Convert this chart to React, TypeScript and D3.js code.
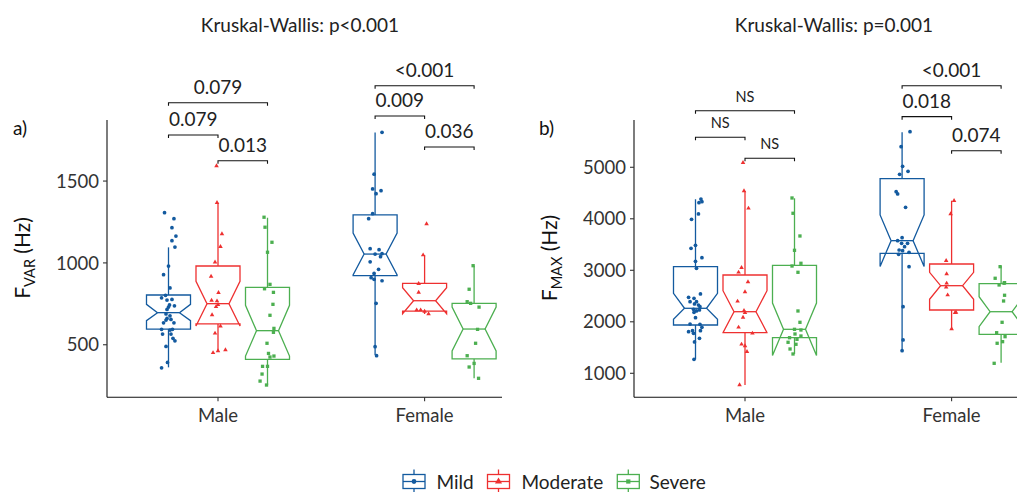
import React from "react";
import * as d3 from "d3";

// ---------- data ----------
const sexes = ["Male", "Female"];
const severities = ["Mild", "Moderate", "Severe"];
const severityColors = ["#135A9F", "#EE3030", "#4CAF50"];

// box stats per severity: [lowerWhisker, q1, median, q3, upperWhisker, notchLow, notchHigh]
const fvarMaleStats = [
  [362, 596, 696, 804, 1095, 647, 747],
  [461, 627, 751, 981, 1368, 615, 887],
  [254, 411, 586, 851, 1276, 431, 741],
];
const fvarFemaleStats = [
  [437, 922, 1054, 1293, 1796, 926, 1182],
  [688, 706, 769, 875, 1048, 690, 848],
  [295, 414, 596, 753, 983, 462, 730],
];
const fmaxMaleStats = [
  [1272, 1938, 2262, 3070, 4379, 2049, 2553],
  [773, 1789, 2196, 2909, 4540, 1790, 2604],
  [1375, 1691, 1854, 3097, 4398, 1344, 2364],
];
const fmaxFemaleStats = [
  [1439, 3330, 3575, 4779, 5680, 3075, 4075],
  [1860, 2229, 2701, 3122, 4351, 2437, 2961],
  [1206, 1757, 2196, 2740, 3083, 1905, 2487],
];

// points: [sex, severity, value, jitter (fraction of dodge step)]
const fvarPoints: [string, string, number, number][] = [
  ["Male","Mild",1307,-0.08],["Male","Mild",1270,0.11],["Male","Mild",1215,0.07],["Male","Mild",1164,0.15],
  ["Male","Mild",1136,0.07],["Male","Mild",1097,0.13],["Male","Mild",981,0],["Male","Mild",928,-0.1],
  ["Male","Mild",847,0.03],["Male","Mild",802,-0.06],["Male","Mild",787,-0.14],["Male","Mild",773,-0.03],
  ["Male","Mild",777,0.07],["Male","Mild",743,0.02],["Male","Mild",730,0],["Male","Mild",716,-0.03],
  ["Male","Mild",738,0.12],["Male","Mild",688,-0.05],["Male","Mild",661,-0.03],["Male","Mild",677,0.03],
  ["Male","Mild",651,-0.05],["Male","Mild",634,-0.1],["Male","Mild",655,0.05],["Male","Mild",634,0.11],
  ["Male","Mild",594,-0.14],["Male","Mild",590,0.03],["Male","Mild",594,0.08],["Male","Mild",565,-0.12],
  ["Male","Mild",565,0.05],["Male","Mild",539,0.09],["Male","Mild",524,0.13],["Male","Mild",490,-0.05],
  ["Male","Mild",392,-0.02],["Male","Mild",359,-0.14],
  ["Male","Moderate",1592,-0.03],["Male","Moderate",1368,-0.02],["Male","Moderate",1177,0.08],["Male","Moderate",1099,0.05],
  ["Male","Moderate",1004,-0.06],["Male","Moderate",918,-0.14],["Male","Moderate",818,0.01],["Male","Moderate",771,-0.13],
  ["Male","Moderate",767,-0.02],["Male","Moderate",745,0],["Male","Moderate",732,-0.04],["Male","Moderate",682,-0.12],
  ["Male","Moderate",614,0.05],["Male","Moderate",570,-0.06],["Male","Moderate",451,-0.1],["Male","Moderate",463,0],
  ["Male","Moderate",469,0.15],
  ["Male","Severe",1279,-0.07],["Male","Severe",1218,-0.05],["Male","Severe",1126,0.09],["Male","Severe",1065,0],
  ["Male","Severe",869,0.05],["Male","Severe",842,-0.06],["Male","Severe",820,0.12],["Male","Severe",747,0.11],
  ["Male","Severe",680,0.05],["Male","Severe",600,0.13],["Male","Severe",576,0.12],["Male","Severe",509,-0.01],
  ["Male","Severe",447,0.02],["Male","Severe",425,0.05],["Male","Severe",431,0.13],["Male","Severe",368,-0.1],
  ["Male","Severe",368,0],["Male","Severe",321,-0.11],["Male","Severe",278,-0.15],["Male","Severe",254,-0.02],
  ["Female","Mild",1798,0.14],["Female","Mild",1542,-0.02],["Female","Mild",1452,-0.05],["Female","Mild",1441,0.12],
  ["Female","Mild",1423,0.02],["Female","Mild",1301,-0.05],["Female","Mild",1270,-0.13],["Female","Mild",1087,-0.1],
  ["Female","Mild",1081,0.08],["Female","Mild",1054,0],["Female","Mild",1056,0.14],["Female","Mild",1038,0.11],
  ["Female","Mild",1007,-0.1],["Female","Mild",961,0.07],["Female","Mild",936,-0.02],["Female","Mild",910,-0.08],
  ["Female","Mild",900,-0.02],["Female","Mild",891,0.14],["Female","Mild",753,0.02],["Female","Mild",488,0],
  ["Female","Mild",433,0.03],
  ["Female","Moderate",1238,0.04],["Female","Moderate",1048,-0.03],["Female","Moderate",873,-0.12],["Female","Moderate",820,-0.12],
  ["Female","Moderate",712,-0.16],["Female","Moderate",712,-0.08],["Female","Moderate",704,0],["Female","Moderate",688,0.08],
  ["Female","Severe",983,-0.02],["Female","Severe",839,-0.1],["Female","Severe",763,-0.14],["Female","Severe",753,-0.07],
  ["Female","Severe",730,0.1],["Female","Severe",594,0.07],["Female","Severe",509,0.03],["Female","Severe",433,-0.14],
  ["Female","Severe",386,0],["Female","Severe",364,-0.1],["Female","Severe",295,0.09],
];

const fmaxPoints: [string, string, number, number][] = [
  ["Male","Mild",4384,0.11],["Male","Mild",4313,0.07],["Male","Mild",4332,0.13],["Male","Mild",4093,0.06],
  ["Male","Mild",3990,-0.08],["Male","Mild",3485,0],["Male","Mild",3427,-0.09],["Male","Mild",3245,0.13],
  ["Male","Mild",3175,0],["Male","Mild",3039,0.02],["Male","Mild",2540,0.1],["Male","Mild",2476,-0.14],
  ["Male","Mild",2456,-0.03],["Male","Mild",2390,-0.11],["Male","Mild",2390,0.02],["Male","Mild",2346,-0.02],
  ["Male","Mild",2326,0.06],["Male","Mild",2293,0.09],["Male","Mild",2243,-0.04],["Male","Mild",2210,0.02],
  ["Male","Mild",2229,0.08],["Male","Mild",2184,-0.03],["Male","Mild",2080,0],["Male","Mild",1957,-0.11],
  ["Male","Mild",1951,0.09],["Male","Mild",1893,0.13],["Male","Mild",1808,-0.14],["Male","Mild",1827,-0.06],
  ["Male","Mild",1777,-0.04],["Male","Mild",1827,0.1],["Male","Mild",1680,0.08],["Male","Mild",1608,-0.02],
  ["Male","Mild",1272,-0.03],
  ["Male","Moderate",5089,-0.04],["Male","Moderate",4540,-0.02],["Male","Moderate",4204,0.07],["Male","Moderate",2961,-0.13],
  ["Male","Moderate",3050,-0.07],["Male","Moderate",2773,0.06],["Male","Moderate",2579,0],["Male","Moderate",2398,-0.15],
  ["Male","Moderate",2216,-0.02],["Male","Moderate",2177,0],["Male","Moderate",2087,-0.04],["Male","Moderate",1893,-0.13],
  ["Male","Moderate",1777,0.15],["Male","Moderate",1563,-0.07],["Male","Moderate",1530,0],["Male","Moderate",1419,0.04],
  ["Male","Moderate",773,-0.11],
  ["Male","Severe",4404,-0.05],["Male","Severe",4107,-0.03],["Male","Severe",3666,0.11],["Male","Severe",3388,0],
  ["Male","Severe",3136,0.13],["Male","Severe",3083,-0.05],["Male","Severe",2961,0.07],["Male","Severe",2210,0.07],
  ["Male","Severe",1990,0.11],["Male","Severe",1854,0],["Male","Severe",1841,0.13],["Male","Severe",1763,0.01],
  ["Male","Severe",1724,0.13],["Male","Severe",1691,-0.1],["Male","Severe",1660,0.05],["Male","Severe",1602,-0.13],
  ["Male","Severe",1563,0.03],["Male","Severe",1472,-0.09],["Male","Severe",1375,-0.03],
  ["Female","Mild",5691,0.16],["Female","Mild",5400,-0.02],["Female","Mild",5019,0.01],["Female","Mild",4922,0.12],
  ["Female","Mild",4864,-0.05],["Female","Mild",4526,-0.12],["Female","Mild",4482,-0.09],["Female","Mild",4223,0.07],
  ["Female","Mild",3633,0],["Female","Mild",3575,-0.09],["Female","Mild",3524,-0.01],["Female","Mild",3524,0.11],
  ["Female","Mild",3458,0.05],["Female","Mild",3394,-0.06],["Female","Mild",3381,0.01],["Female","Mild",3350,0.14],
  ["Female","Mild",3311,-0.07],["Female","Mild",3070,0.14],["Female","Mild",2293,0.02],["Female","Mild",1647,0.02],
  ["Female","Mild",1439,0],
  ["Female","Moderate",4351,0.05],["Female","Moderate",4093,-0.02],["Female","Moderate",3186,-0.11],["Female","Moderate",2928,-0.1],
  ["Female","Moderate",2748,-0.1],["Female","Moderate",2670,-0.11],["Female","Moderate",2520,-0.08],["Female","Moderate",2177,0.07],
  ["Female","Moderate",2184,0.09],["Female","Moderate",1860,0],
  ["Female","Severe",3070,-0.02],["Female","Severe",2845,-0.12],["Female","Severe",2715,-0.04],["Female","Severe",2760,0.07],
  ["Female","Severe",2748,0.06],["Female","Severe",2515,0.07],["Female","Severe",2404,0.05],["Female","Severe",1990,0.02],
  ["Female","Severe",1788,-0.09],["Female","Severe",1711,0.08],["Female","Severe",1614,0.03],["Female","Severe",1583,-0.08],
  ["Female","Severe",1194,-0.14],
];

// brackets: [sex, fromSeverity, toSeverity, yValue, label]
const fvarBrackets: [string, string, string, number, string][] = [
  ["Male", "Mild", "Severe", 1978, "0.079"],
  ["Male", "Mild", "Moderate", 1781, "0.079"],
  ["Male", "Moderate", "Severe", 1624, "0.013"],
  ["Female", "Mild", "Severe", 2082, "<0.001"],
  ["Female", "Mild", "Moderate", 1897, "0.009"],
  ["Female", "Moderate", "Severe", 1708, "0.036"],
];
const fmaxBrackets: [string, string, string, number, string][] = [
  ["Male", "Mild", "Severe", 6099, "NS"],
  ["Male", "Mild", "Moderate", 5583, "NS"],
  ["Male", "Moderate", "Severe", 5175, "NS"],
  ["Female", "Mild", "Severe", 6584, "<0.001"],
  ["Female", "Mild", "Moderate", 5983, "0.018"],
  ["Female", "Moderate", "Severe", 5322, "0.074"],
];

const fvarTicks = [500, 1000, 1500];
const fmaxTicks = [1000, 2000, 3000, 4000, 5000];
const fvarDomain = [179, 1873];
const fmaxDomain = [534, 5918];

// ---------- drawing ----------
const FONT = "Lato, 'Noto Sans', sans-serif";
const DODGE = 0.2396;
const BOXW = 0.213;

function symbolPath(sev: string, area: number) {
  const t = sev === "Mild" ? d3.symbolCircle : sev === "Moderate" ? d3.symbolTriangle : d3.symbolSquare;
  return d3.symbol().type(t).size(area)() as string;
}

type PanelProps = {
  axisX: number;
  axisEnd: number;
  cat0: number;
  title: string;
  titleX: number;
  tag: string;
  tagX: number;
  yMain: string;
  ySub: string;
  yTitleX: number;
  domain: number[];
  ticks: number[];
  stats: number[][][];
  points: [string, string, number, number][];
  brackets: [string, string, string, number, string][];
};

function Panel(p: PanelProps) {
  const top = 120, bottom = 397.3;
  const y = d3.scaleLinear().domain(p.domain).range([bottom, top]);
  const x = d3.scaleLinear().domain([0, 1]).range([p.cat0, p.cat0 + 206.6]);
  const pos = (sex: string, sev: string, j = 0) =>
    x(sexes.indexOf(sex) + (severities.indexOf(sev) - 1) * DODGE + j * DODGE);
  const halfW = (x(BOXW) - x(0)) / 2;
  const nw = halfW / 2;

  return (
    <g>
      <text x={p.titleX} y={32} textAnchor="middle" fontFamily={FONT} fontSize={19} fill="#222">{p.title}</text>
      <text x={p.tagX} y={135} fontFamily={FONT} fontSize={19} fill="#111">{p.tag}</text>
      <text transform={`translate(${p.yTitleX},258) rotate(-90)`} textAnchor="middle" fontFamily={FONT} fontSize={21} fill="#111">
        {p.yMain}
        <tspan fontSize={14.5} dy={5}>{p.ySub}</tspan>
        <tspan dy={-5}> (Hz)</tspan>
      </text>
      {/* axes */}
      <line x1={p.axisX} x2={p.axisX} y1={top} y2={bottom} stroke="#111" strokeWidth={1.1} />
      <line x1={p.axisX} x2={p.axisEnd} y1={bottom} y2={bottom} stroke="#111" strokeWidth={1.1} />
      {p.ticks.map((t) => (
        <g key={t}>
          <line x1={p.axisX - 4} x2={p.axisX} y1={y(t)} y2={y(t)} stroke="#333" strokeWidth={1.1} />
          <text x={p.axisX - 8} y={y(t)} dy="0.36em" textAnchor="end" fontFamily={FONT} fontSize={18.5} fill="#333">{t}</text>
        </g>
      ))}
      {sexes.map((s, i) => (
        <g key={s}>
          <line x1={x(i)} x2={x(i)} y1={bottom} y2={bottom + 4} stroke="#333" strokeWidth={1.1} />
          <text x={x(i)} y={421.5} textAnchor="middle" fontFamily={FONT} fontSize={18.5} fill="#333">{s}</text>
        </g>
      ))}
      {/* boxes */}
      {sexes.map((s, si) =>
        severities.map((sev, vi) => {
          const [lo, q1, med, q3, hi, nlo, nhi] = p.stats[si][vi];
          const cx = pos(s, sev);
          const x0 = cx - halfW, x1 = cx + halfW;
          const pts: [number, number][] = [
            [x0, y(q3)], [x0, y(nhi)], [x0 + nw, y(med)], [x0, y(nlo)], [x0, y(q1)],
            [x1, y(q1)], [x1, y(nlo)], [x1 - nw, y(med)], [x1, y(nhi)], [x1, y(q3)],
          ];
          const col = severityColors[vi];
          return (
            <g key={s + sev} stroke={col} strokeWidth={1.3} fill="none">
              <line x1={cx} x2={cx} y1={y(q3)} y2={y(hi)} />
              <line x1={cx} x2={cx} y1={y(q1)} y2={y(lo)} />
              <polygon points={pts.map((d) => d.join(",")).join(" ")} fill="white" strokeLinejoin="miter" />
              <line x1={x0 + nw} x2={x1 - nw} y1={y(med)} y2={y(med)} />
            </g>
          );
        })
      )}
      {/* points */}
      {p.points.map(([s, sev, v, j], i) => (
        <path
          key={i}
          d={symbolPath(sev, sev === "Moderate" ? 9 : 11)}
          transform={`translate(${pos(s, sev, j)},${y(v)})`}
          fill={severityColors[severities.indexOf(sev)]}
        />
      ))}
      {/* brackets */}
      {p.brackets.map(([s, a, b, v, lab], i) => {
        const xa = pos(s, a), xb = pos(s, b), yy = y(v);
        const isNS = lab === "NS";
        return (
          <g key={i}>
            <path d={`M${xa},${yy + 3}V${yy}H${xb}V${yy + 3}`} fill="none" stroke="#111" strokeWidth={1.1} />
            <text x={(xa + xb) / 2} y={yy - 9} textAnchor="middle" fontFamily={FONT} fontSize={isNS ? 14.5 : 19} fill="#222">{lab}</text>
          </g>
        );
      })}
    </g>
  );
}

function Legend() {
  const keyX = [403, 487.5, 617.3];
  const textX = [436.5, 521.5, 649.5];
  return (
    <g>
      {severities.map((sev, i) => {
        const col = severityColors[i];
        const x0 = keyX[i], x1 = keyX[i] + 22;
        const cx = (x0 + x1) / 2;
        return (
          <g key={sev}>
            <g stroke={col} strokeWidth={1.3} fill="none">
              <line x1={cx} x2={cx} y1={469.5} y2={474.5} />
              <line x1={cx} x2={cx} y1={488.5} y2={492} />
              <rect x={x0} y={474.5} width={22} height={14} fill="white" />
              <line x1={x0} x2={x1} y1={481.5} y2={481.5} />
            </g>
            <path d={symbolPath(sev, sev === "Moderate" ? 22 : 18)} transform={`translate(${cx},481.5)`} fill={col} />
            <text x={textX[i]} y={489} fontFamily={FONT} fontSize={19} fill="#222">{sev}</text>
          </g>
        );
      })}
    </g>
  );
}

export default function App() {
  return (
    <svg width={1017} height={492} style={{ position: "absolute", left: 0, top: 0, background: "white" }}>
      <rect width={1017} height={492} fill="white" />
      <Panel
        axisX={107} axisEnd={502} cat0={218} title="Kruskal-Wallis: p<0.001" titleX={300}
        tag="a)" tagX={13} yMain="F" ySub="VAR" yTitleX={30}
        domain={fvarDomain} ticks={fvarTicks}
        stats={[fvarMaleStats, fvarFemaleStats]} points={fvarPoints} brackets={fvarBrackets}
      />
      <Panel
        axisX={634} axisEnd={1030} cat0={745} title="Kruskal-Wallis: p=0.001" titleX={834}
        tag="b)" tagX={539} yMain="F" ySub="MAX" yTitleX={556.5}
        domain={fmaxDomain} ticks={fmaxTicks}
        stats={[fmaxMaleStats, fmaxFemaleStats]} points={fmaxPoints} brackets={fmaxBrackets}
      />
      <Legend />
    </svg>
  );
}
